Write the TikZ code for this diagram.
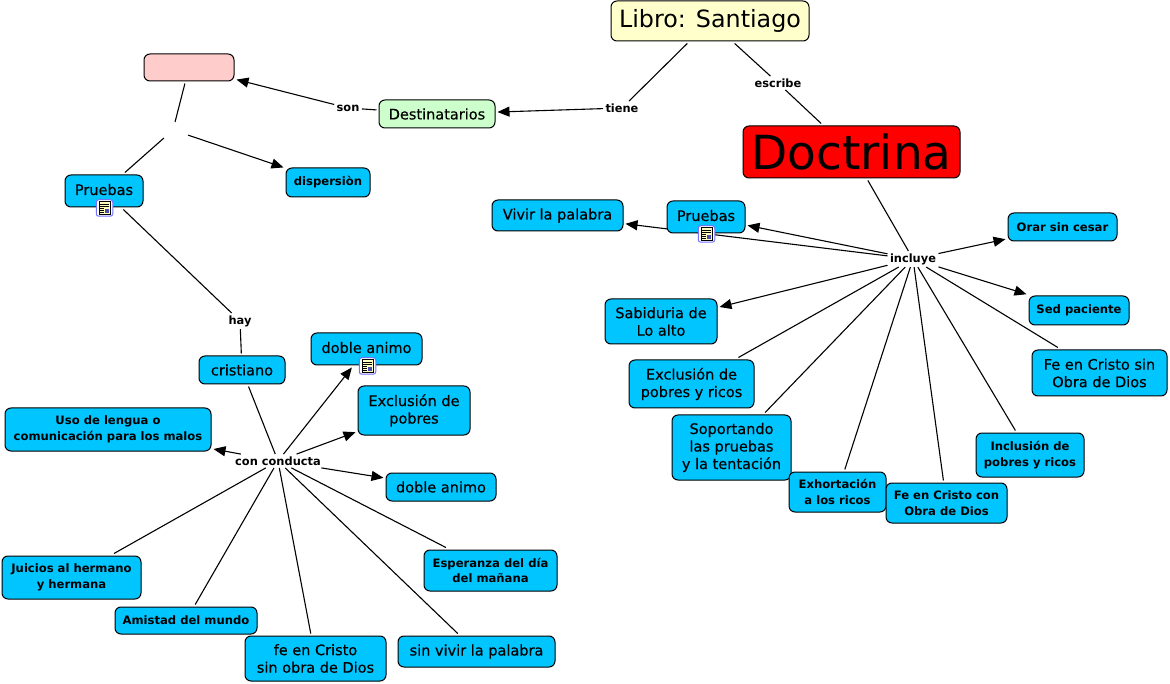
\documentclass[tikz,border=0pt]{standalone}
\usepackage{fontspec}
\setmainfont{DejaVu Sans}
\newfontfamily\medio[FakeBold=0.3]{DejaVu Sans}
\usetikzlibrary{arrows.meta,backgrounds}

\definecolor{azul}{HTML}{00C5FF}
\definecolor{amarillo}{HTML}{FFFFCC}
\definecolor{verde}{HTML}{CCFFCC}
\definecolor{rosa}{HTML}{FFCCCC}

\tikzset{
  tam/.style 2 args={minimum width=#1pt,minimum height=#2pt},
  concepto/.style={draw=black,line width=1pt,rounded corners=6pt,fill=azul,align=center,inner sep=0pt,outer sep=2.5pt,font=\fontsize{14.5}{17.5}\selectfont\medio},
  chico/.style={concepto,font=\fontsize{11.6}{15.5}\selectfont\bfseries},
  conicono/.style={text height=14pt,text depth=6pt},
  enlace/.style={inner sep=1.5pt,outer sep=1pt,font=\fontsize{11.4}{13}\selectfont\bfseries},
  linea/.style={line width=1.1pt},
  icono/.style={draw=blue!55!white,line width=1pt,fill=white,rounded corners=2.5pt,minimum size=16.5pt,inner sep=0pt}
}

% icono de recurso sobre un concepto
\newcommand{\hoja}[2]{
  \node[icono] (#1) at (#2) {};
  \fill[yellow!25!white,draw=black,line width=0.6pt] ([xshift=-5.5pt,yshift=-6.5pt]#1.center) rectangle ([xshift=5.5pt,yshift=6.5pt]#1.center);
  \fill[blue!40!gray] ([xshift=0.5pt,yshift=-5.5pt]#1.center) rectangle ([xshift=4.5pt,yshift=-1.5pt]#1.center);
  \foreach \d in {-4,-2,0,2,4}
    \draw[line width=0.45pt] ([xshift=-4.5pt,yshift=\d pt-0.5pt]#1.center) -- ([xshift=\ifnum\d<1 -1pt\else 4.5pt\fi,yshift=\d pt-0.5pt]#1.center);
}

\begin{document}
\begin{tikzpicture}[x=1pt,y=-1pt,>={Triangle[length=12pt,width=10pt]}]
  \useasboundingbox (0,0) rectangle (1170,684);

  \node[concepto,tam={198}{40},fill=amarillo,font=\fontsize{23.8}{28}\selectfont] (libro) at (710,21) {Libro: Santiago};
  \node[concepto,tam={217}{52},fill=red,font=\fontsize{47}{56}\selectfont] (doctrina) at (851.5,152) {Doctrina};
  \node[concepto,tam={116}{28},fill=verde] (destinatarios) at (437,114) {Destinatarios};
  \node[concepto,tam={90}{27},fill=rosa] (vacio) at (189,67.5) {};

  \node[enlace] (tiene) at (622,108) {tiene};
  \node[enlace] (escribe) at (778,83) {escribe};
  \node[enlace] (son) at (348,108) {son};
  \node[enlace,minimum width=28pt,minimum height=14pt] (blanco) at (173,130) {};
  \node[enlace] (hay) at (240,321) {hay};
  \node[enlace] (incluye) at (913,259) {incluye};
  \node[enlace] (conducta) at (278,461) {con conducta};

  % lado izquierdo
  \node[concepto,tam={78}{32},conicono] (pruebasA) at (104,191) {Pruebas};
  \node[chico,tam={84}{29}] (dispersion) at (328,182.5) {dispersiòn};
  \node[concepto,tam={86}{28}] (cristiano) at (242,370) {cristiano};
  \node[concepto,tam={111}{32},conicono] (animoA) at (366.5,349) {doble animo};
  \node[concepto,tam={112}{49}] (exclusionA) at (414,410.5) {Exclusión de\\pobres};
  \node[chico,tam={206}{43}] (lengua) at (108,429.5) {Uso de lengua o\\comunicación para los malos};
  \node[concepto,tam={110}{28}] (animoB) at (441,487) {doble animo};
  \node[chico,tam={133}{41}] (esperanza) at (490.5,570.5) {Esperanza del día\\del mañana};
  \node[concepto,tam={157}{31}] (vivirB) at (476.5,651.5) {sin vivir la palabra};
  \node[concepto,tam={141}{45}] (feA) at (315.5,658.5) {fe en Cristo\\sin obra de Dios};
  \node[chico,tam={142}{27}] (amistad) at (186,620.5) {Amistad del mundo};
  \node[chico,tam={139}{43}] (juicios) at (71.5,577.5) {Juicios al hermano\\y hermana};

  % lado derecho
  \node[concepto,tam={78}{32},conicono] (pruebasB) at (706,217) {Pruebas};
  \node[concepto,tam={131}{31}] (vivir) at (557.5,215.5) {Vivir la palabra};
  \node[chico,tam={109}{28}] (orar) at (1062.5,227) {Orar sin cesar};
  \node[chico,tam={100}{29}] (sed) at (1079,310.5) {Sed paciente};
  \node[concepto,tam={112}{45}] (sabiduria) at (661,321.5) {Sabiduria de\\Lo alto};
  \node[concepto,tam={125}{48}] (exclusionB) at (691.5,384) {Exclusión de\\pobres y ricos};
  \node[concepto,tam={119}{65}] (soportando) at (731.5,447.5) {Soportando\\las pruebas\\y la tentación};
  \node[chico,tam={97}{40}] (exhortacion) at (837.5,492) {Exhortación\\a los ricos};
  \node[chico,tam={121}{40}] (feB) at (946.5,503) {Fe en Cristo con\\Obra de Dios};
  \node[chico,tam={108}{44}] (inclusion) at (1030,455) {Inclusión de\\pobres y ricos};
  \node[concepto,tam={135}{46}] (feC) at (1099.5,373) {Fe en Cristo sin\\Obra de Dios};

  \hoja{iconoA}{104.5,208}
  \hoja{iconoB}{706.5,234}
  \hoja{iconoC}{367.5,366}

  \begin{scope}[on background layer]
    \path[linea]
    (libro) edge (tiene)
    (libro) edge (escribe)
    (escribe) edge (doctrina)
    (destinatarios) edge (son)
    (vacio) edge (blanco)
    (blanco) edge (pruebasA)
    (pruebasA) edge (hay)
    (hay) edge (cristiano)
    (cristiano) edge (conducta)
    (conducta) edge (esperanza)
    edge (vivirB)
    edge (feA)
    edge (amistad)
    edge (juicios)
    (doctrina) edge (incluye)
    (incluye) edge (exclusionB)
    edge (soportando)
    edge (exhortacion)
    edge (feB)
    edge (inclusion)
    edge (feC);

    \path[linea,->]
    (tiene) edge (destinatarios)
    (son) edge (vacio)
    (blanco) edge (dispersion)
    (conducta) edge (animoA)
    edge (exclusionA)
    edge (lengua)
    edge (animoB)
    (incluye) edge (pruebasB)
    edge (vivir)
    edge (sabiduria)
    edge (orar)
    edge (sed);
  \end{scope}
\end{tikzpicture}
\end{document}
